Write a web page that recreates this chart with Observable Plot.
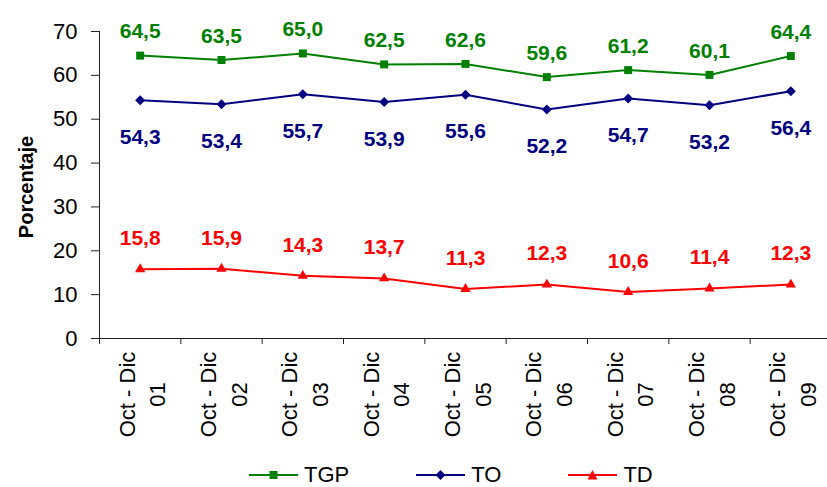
<!DOCTYPE html>
<html><head><meta charset="utf-8">
<script src="https://cdn.jsdelivr.net/npm/d3@7"></script>
<script src="https://cdn.jsdelivr.net/npm/@observablehq/plot@0.6"></script>
<style>
body{margin:0;background:#fff;font-family:"Liberation Sans",Arial,sans-serif;}
#legend{display:flex;align-items:center;height:24px;padding-top:18px;padding-left:249px;font-size:22px;color:#000;}
.item{display:flex;align-items:center;margin-right:67px;}
.item svg{margin-right:6px;}
</style></head><body><div id="chart"></div><div id="legend"></div>
<script>
const quarter = "Oct - Dic";
const years = ["01","02","03","04","05","06","07","08","09"];
const tgp = [64.5,63.5,65.0,62.5,62.6,59.6,61.2,60.1,64.4];
const to  = [54.3,53.4,55.7,53.9,55.6,52.2,54.7,53.2,56.4];
const td  = [15.8,15.9,14.3,13.7,11.3,12.3,10.6,11.4,12.3];
const yTicks = [0,10,20,30,40,50,60,70];
const seriesNames = ["TGP","TO","TD"];
const seriesColors = ["#008000","#000080","#FF0000"];
const yTitle = "Porcentaje";

const diamond = {draw(ctx, size){const r=Math.sqrt(size/2);ctx.moveTo(0,-r);ctx.lineTo(r,0);ctx.lineTo(0,r);ctx.lineTo(-r,0);ctx.closePath();}};
const symbols = ["square", diamond, "triangle"];
const radii = [4.5, 4, 3.8];
const labelDy = [-24, 37, -31];
const values = [tgp, to, td];
const fmt = v => v.toFixed(1).replace(".", ",");

const series = seriesNames.map((name, s) => ({
  name, color: seriesColors[s], symbol: symbols[s], r: radii[s], dy: labelDy[s],
  rows: values[s].map((v, i) => ({i, v}))
}));

const marks = [
  Plot.ruleY([0], {stroke: "#222"}),
  Plot.ruleX([-0.5], {stroke: "#222"}),
  Plot.axisY({ticks: yTicks, tickSize: 8, tickPadding: 14, fontSize: 22, label: null, stroke: "#222", fill: "#000"}),
  Plot.axisX({ticks: d3.range(-0.5, 9, 1), tickSize: 6, tickFormat: () => "", label: null, stroke: "#222"}),
  Plot.text(years, {x: (d, i) => i, text: d => `${quarter}\n${d}`, frameAnchor: "bottom", dy: 56,
    rotate: -90, textAnchor: "middle", lineAnchor: "middle", lineHeight: 1.4, fontSize: 22, fill: "#000"}),
  Plot.text([yTitle], {frameAnchor: "left", dx: -73, dy: 2, rotate: -90, textAnchor: "middle",
    lineAnchor: "middle", fontSize: 20, fontWeight: "bold", fill: "#000"})
];
for (const s of series) {
  marks.push(Plot.line(s.rows, {x: "i", y: "v", stroke: s.color, strokeWidth: 2}));
  marks.push(Plot.dot(s.rows, {x: "i", y: "v", symbol: s.symbol, r: s.r, fill: s.color, stroke: "none"}));
  marks.push(Plot.text(s.rows, {x: "i", y: "v", text: d => fmt(d.v), dy: s.dy, fill: s.color,
    fontSize: 21, fontWeight: "bold", lineAnchor: "middle"}));
}

const chart = Plot.plot({
  width: 827, height: 445,
  marginLeft: 99, marginRight: 0, marginTop: 31, marginBottom: 107,
  style: {fontFamily: '"Liberation Sans", Arial, sans-serif', background: "#fff", overflow: "visible"},
  x: {type: "linear", domain: [-0.5, 8.5], range: [99, 831]},
  y: {domain: [0, 70]},
  marks
});
document.getElementById("chart").appendChild(chart);

const legend = document.getElementById("legend");
const legendSymbols = [
  c => `<rect x="20.5" y="2" width="8" height="8" fill="${c}"/>`,
  c => `<path d="M24.5 1 L29.5 6 L24.5 11 L19.5 6 Z" fill="${c}"/>`,
  c => `<path d="M24.5 1 L29.5 10.5 L19.5 10.5 Z" fill="${c}"/>`
];
series.forEach((s, k) => {
  const item = document.createElement("div");
  item.className = "item";
  item.innerHTML = `<svg width="49" height="12"><line x1="0" x2="49" y1="6" y2="6" stroke="${s.color}" stroke-width="2"/>${legendSymbols[k](s.color)}</svg><span>${s.name}</span>`;
  legend.appendChild(item);
});
</script></body></html>
